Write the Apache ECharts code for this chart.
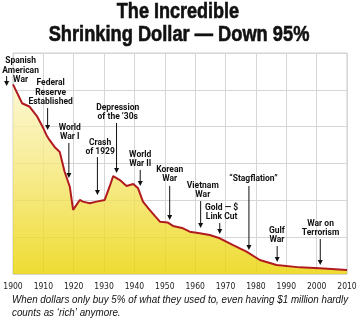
<!DOCTYPE html>
<html>
<head>
<meta charset="utf-8">
<script src="https://cdn.jsdelivr.net/npm/echarts@6/dist/echarts.min.js"></script>
<style>
html,body{margin:0;padding:0;background:#fff;}
#chart{width:360px;height:323px;}
</style>
</head>
<body>
<div id="chart"></div>
<script>
// Purchasing power of the dollar (index, 1900 ≈ 100)
const years = [1900, 1903, 1905.5, 1908, 1910, 1911, 1912, 1913.7, 1915.4, 1917, 1918.7, 1919.8, 1920.3, 1922, 1923, 1925.3, 1927.5, 1930.2, 1931.8, 1933, 1935.2, 1937.4, 1939.6, 1941.2, 1942.8, 1945, 1947, 1948.4, 1951, 1952.7, 1956, 1958.2, 1961.5, 1964.8, 1968.1, 1972.5, 1976.9, 1981.3, 1986.8, 1994.5, 2001, 2010];
const values = [103, 92.7, 90.8, 85.4, 79.1, 75.5, 72.8, 69, 66.2, 55.5, 47.4, 34.8, 33.8, 40.2, 39.3, 38.4, 39.3, 40.2, 47.4, 53.2, 51, 47.8, 48.9, 46.5, 39.3, 34.8, 31, 28.4, 27.9, 26.1, 24.8, 23, 22.1, 21.2, 19.4, 15.7, 12.1, 7.6, 4.9, 3.6, 3.1, 2.2];
const tickYears = [1900, 1910, 1920, 1930, 1940, 1950, 1960, 1970, 1980, 1990, 2000, 2010];

// Event annotations: label, arrow year, arrow top value, arrow bottom value, label year, label bottom value
const eventLabels = ['Spanish\nAmerican\nWar', 'Federal\nReserve\nEstablished', 'World\nWar I', 'Crash\nof 1929', 'Depression\nof the \u201930s', 'World\nWar II', 'Korean\nWar', 'Vietnam\nWar', 'Gold \u2014 $\nLink Cut', '\u201cStagflation\u201d', 'Gulf\nWar', 'War on\nTerrorism'];
const eventArrowYear = [1897.9, 1911.4, 1918.4, 1927.8, 1934.1, 1941.9, 1951.6, 1961.8, 1968.1, 1977.7, 1987, 2001.2];
const eventArrowTop = [107.5, 90.1, 71.1, 63.5, 82.0, 56.5, 47.8, 39.6, 27.7, 47.8, 15.2, 19.0];
const eventArrowBottom = [102.1, 78.2, 52.1, 42.9, 54.8, 47.8, 29.3, 25.0, 21.7, 13.0, 6.5, 4.9];
const eventLabelYear = [1902.5, 1912.4, 1918.7, 1928.7, 1934.5, 1941.9, 1951.6, 1962.5, 1968.7, 1979.2, 1986.9, 2001.3];
const eventLabelValue = [102.6, 90.7, 71.7, 63.5, 82.5, 57.0, 48.9, 40.2, 28.2, 48.9, 15.7, 19.5];

const titleLines = ['The Incredible', 'Shrinking Dollar \u2014 Down 95%'];
const captionLines = ['When dollars only buy 5% of what they used to, even having $1 million hardly', 'counts as \u2018rich\u2019 anymore.'];

const lineData = years.map((y, i) => [y, values[i]]);
const eventData = eventLabels.map((t, i) => [eventArrowYear[i], eventArrowTop[i], eventArrowBottom[i], eventLabelYear[i], eventLabelValue[i]]);

const chart = echarts.init(document.getElementById('chart'), null, {renderer: 'canvas'});
chart.setOption({
  animation: false,
  backgroundColor: '#fff',
  grid: {left: 13, right: 13, top: 53, bottom: 49, show: true, borderColor: '#cfcfcf', borderWidth: 1, backgroundColor: '#fff'},
  xAxis: {
    type: 'value', min: 1900, max: 2010, interval: 10,
    axisLine: {show: false}, axisTick: {show: false},
    splitLine: {show: true, lineStyle: {color: '#d6d6d6', width: 1}},
    axisLabel: {color: '#222', fontSize: 8.5, fontFamily: '"Liberation Sans Narrow", "DejaVu Sans Condensed", "Liberation Sans", sans-serif', margin: 8,
      formatter: v => tickYears.indexOf(v) >= 0 ? String(v) : ''}
  },
  yAxis: {
    type: 'value', min: 0, max: 120, interval: 20,
    axisLine: {show: false}, axisTick: {show: false}, axisLabel: {show: false},
    splitLine: {show: true, lineStyle: {color: '#d6d6d6', width: 1}}
  },
  graphic: [
    {type: 'text', x: 178, y: 1, scaleX: 0.82, style: {text: titleLines[0], font: 'bold 22px "Liberation Sans", Arial, sans-serif', fill: '#111', align: 'center', verticalAlign: 'top', stroke: '#111', lineWidth: 0.6}},
    {type: 'text', x: 179, y: 24, scaleX: 0.83, style: {text: titleLines[1], font: 'bold 22px "Liberation Sans", Arial, sans-serif', fill: '#111', align: 'center', verticalAlign: 'top', stroke: '#111', lineWidth: 0.6}},
    {type: 'text', x: 12, y: 294, scaleX: 0.935, style: {text: captionLines.join('\n'), font: 'italic 10.5px "Liberation Sans", Arial, sans-serif', fill: '#111', align: 'left', verticalAlign: 'top', lineHeight: 13}}
  ],
  series: [
    {
      type: 'line', data: lineData, symbol: 'none', smooth: false, z: 2,
      lineStyle: {color: '#b11b1f', width: 2},
      areaStyle: {opacity: 0.8, color: new echarts.graphic.LinearGradient(0, 0, 0, 1, [
        {offset: 0, color: '#fcf6cc'}, {offset: 0.45, color: '#f6e777'}, {offset: 1, color: '#ead300'}])}
    },
    {
      type: 'custom', data: eventData, z: 5, clip: false,
      encode: {x: [0, 3], y: [1, 2, 4]},
      renderItem: function (params, api) {
        const p1 = api.coord([api.value(0), api.value(1)]);
        const p2 = api.coord([api.value(0), api.value(2)]);
        const t = api.coord([api.value(3), api.value(4)]);
        return {
          type: 'group',
          children: [
            {type: 'line', shape: {x1: p1[0], y1: p1[1], x2: p2[0], y2: p2[1] - 4}, style: {stroke: '#111', lineWidth: 1}},
            {type: 'polygon', shape: {points: [[p2[0] - 2.5, p2[1] - 5], [p2[0] + 2.5, p2[1] - 5], [p2[0], p2[1]]]}, style: {fill: '#111'}},
            {type: 'text', x: t[0], y: t[1], style: {text: eventLabels[params.dataIndex], align: 'center', verticalAlign: 'bottom', font: 'bold 8.5px Roboto, "Liberation Sans", sans-serif', fill: '#111', lineHeight: 9.5}}
          ]
        };
      }
    }
  ]
});
</script>
</body>
</html>
